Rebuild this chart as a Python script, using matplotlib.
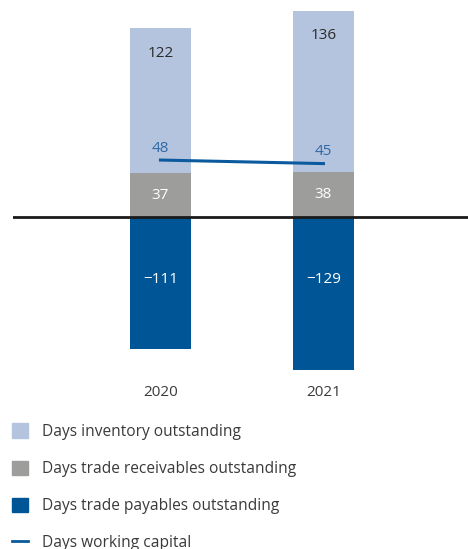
import matplotlib.pyplot as plt
from matplotlib.patches import Patch
from matplotlib.lines import Line2D

plt.rcParams['font.family'] = ['Open Sans', 'DejaVu Sans']

years = ['2020', '2021']
inventory = [122, 136]
receivables = [37, 38]
payables = [-111, -129]
working_capital = [48, 45]

c_inv = '#b4c3de'
c_rec = '#9d9d9c'
c_pay = '#005596'
c_line = '#0b5a9e'

fig = plt.figure(figsize=(4.68, 5.49), dpi=100)
# axes fill the top part, legend goes underneath
ax = fig.add_axes([13 / 468, 140 / 549, 455 / 468, 409 / 549])

x = list(range(len(years)))
w = 0.374
ax.bar(x, receivables, w, color=c_rec, zorder=2)
ax.bar(x, inventory, w, bottom=receivables, color=c_inv, zorder=2)
ax.bar(x, payables, w, color=c_pay, zorder=2)
ax.plot(x, working_capital, color=c_line, lw=2.2, zorder=3)
ax.axhline(0, color='#1a1a1a', lw=2, zorder=4)

for i in x:
    top = receivables[i] + inventory[i]
    ax.text(i, top - 21, str(inventory[i]), ha='center', va='center',
            fontsize=11, color='#2b2b2b', zorder=5)
    ax.text(i, receivables[i] / 2, str(receivables[i]), ha='center', va='center',
            fontsize=11, color='white', zorder=5)
    ax.text(i, -53, '\u2212' + str(abs(payables[i])), ha='center', va='center',
            fontsize=11, color='white', zorder=5)
    ax.text(i, working_capital[i] + 10, str(working_capital[i]), ha='center',
            va='center', fontsize=11, color='#2e6aa6', zorder=5)
    ax.text(i, -148, years[i], ha='center', va='center', fontsize=11,
            color='#3a3a3a')

ax.set_xlim(-0.905, 1.887)
ax.set_ylim(-162, 183)
ax.axis('off')

handles = [
    Patch(color=c_inv, label='Days inventory outstanding'),
    Patch(color=c_rec, label='Days trade receivables outstanding'),
    Patch(color=c_pay, label='Days trade payables outstanding'),
    Line2D([], [], color=c_line, lw=2, label='Days working capital'),
]
fig.legend(handles=handles, loc='upper left', bbox_to_anchor=(0.0, 138 / 549),
           frameon=False, fontsize=11.2, labelcolor='#3a3a3a', handlelength=1.03,
           handleheight=1.03, handletextpad=0.9, labelspacing=1.33,
           borderaxespad=0.4)

fig.savefig('out.png', dpi=100)
